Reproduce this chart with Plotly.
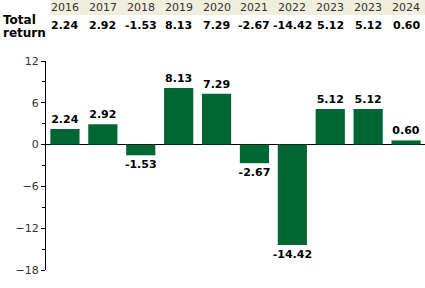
import plotly.graph_objects as go

years = ["2016", "2017", "2018", "2019", "2020", "2021", "2022", "2023", "2023", "2024"]
returns = [2.24, 2.92, -1.53, 8.13, 7.29, -2.67, -14.42, 5.12, 5.12, 0.60]
labels = [f"{v:.2f}" for v in returns]
xpos = list(range(len(years)))

FONT = "DejaVu Sans"
PH = 209.0  # plot height in px
def py(pix):  # pixel y from top -> paper coordinate
    return 1 + (61 - pix) / PH

fig = go.Figure()
fig.add_trace(go.Bar(
    x=xpos, y=returns, marker=dict(color="#006633", line=dict(width=0)),
    text=labels, textposition="outside", cliponaxis=False, constraintext="none",
    textfont=dict(family=FONT, size=11, color="black", weight="bold"),
    width=0.77,
))

# header band
fig.add_shape(type="rect", xref="paper", yref="paper", x0=0.011, x1=1.0, y0=py(15), y1=py(0),
              fillcolor="#F0EEDC", line=dict(width=0), layer="below")
for i, (yr, lb) in enumerate(zip(years, labels)):
    fig.add_annotation(x=i, xref="x", y=py(7.5), yref="paper", text=yr, showarrow=False,
                       font=dict(family=FONT, size=11, color="#333333"), xanchor="center", yanchor="middle")
    fig.add_annotation(x=i, xref="x", y=py(25), yref="paper", text=lb, showarrow=False,
                       font=dict(family=FONT, size=11, color="black", weight="bold"),
                       xanchor="center", yanchor="middle")
for txt, yy in (("Total", 20), ("return", 33)):
    fig.add_annotation(x=0, xref="paper", xshift=-45, y=py(yy), yref="paper", text=f"<b>{txt}</b>",
                       showarrow=False, xanchor="left", yanchor="middle",
                       font=dict(family=FONT, size=12, color="black"))

fig.update_layout(
    width=425, height=288, margin=dict(l=46, r=0, t=61, b=18),
    paper_bgcolor="white", plot_bgcolor="white", showlegend=False,
    xaxis=dict(range=[-0.5, 9.5], showticklabels=False, showgrid=False, zeroline=False,
               ticks="", showline=False),
    yaxis=dict(range=[-18, 12], tickvals=[-18, -12, -6, 0, 6, 12], showgrid=False,
               zeroline=True, zerolinecolor="black", zerolinewidth=1,
               showline=True, linecolor="black", linewidth=1, ticks="outside", ticklen=4,
               tickcolor="black", tickfont=dict(family=FONT, size=11, color="#333333"),
               minor=dict(tickvals=[-15, -9, -3, 3, 9], ticks="outside", ticklen=3, tickcolor="black")),
)
fig.write_html("out.html")
